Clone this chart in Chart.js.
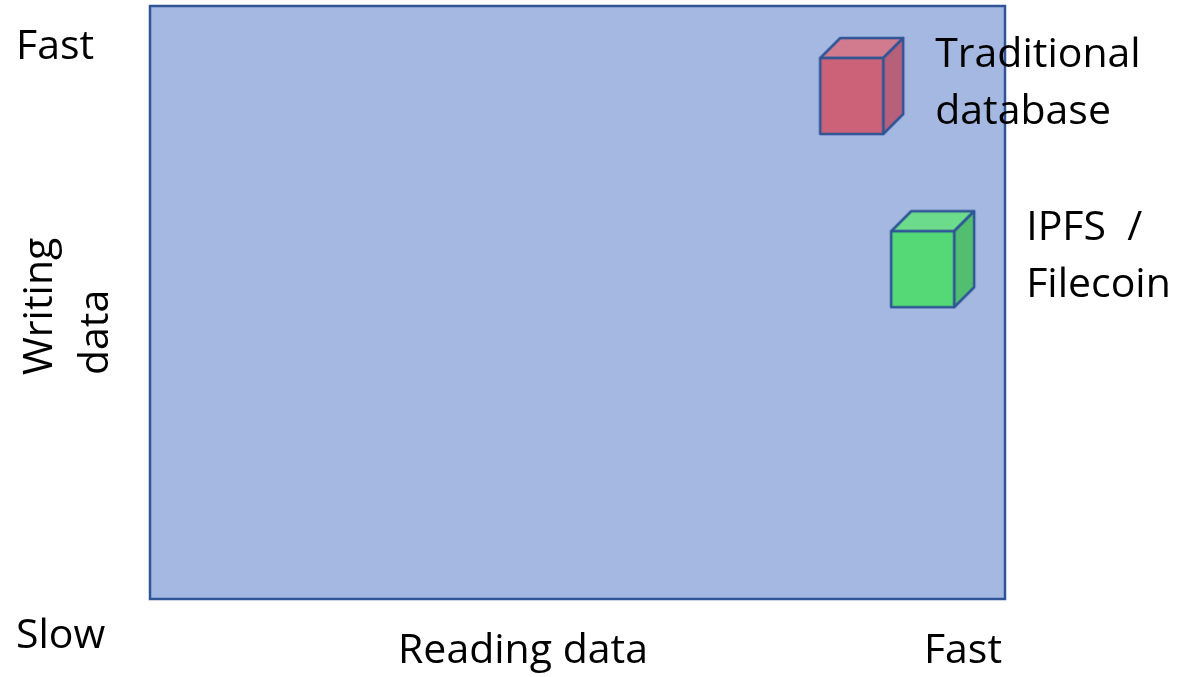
<!DOCTYPE html>
<html>
<head>
<meta charset="utf-8">
<script src="https://cdn.jsdelivr.net/npm/chart.js@4"></script>
<style>
  html, body { margin: 0; padding: 0; background: #fff; }
  #wrap { width: 1179px; height: 677px; }
</style>
</head>
<body>
<div id="wrap"><canvas id="myChart" width="1179" height="677"></canvas></div>
<script>
// data
var systems = ['Traditional database', 'IPFS / Filecoin'];
var readingSpeed = [8.33, 9.16];   // 0 = slow, 10 = fast
var writingSpeed = [8.65, 5.73];
var labelLines = [['Traditional', 'database'], ['IPFS  /', 'Filecoin']];
var cubeColors = [
  {front: '#CC6277', top: '#D27B8E', side: '#B66179'},
  {front: '#55D977', top: '#6CDB8B', side: '#52BF70'}
];
// label offset from cube centre (px)
var labelDx = [73, 93];

var FONT = '"Open Sans", "Noto Sans", sans-serif';

function makeCube(c) {
  var cv = document.createElement('canvas');
  cv.width = 88; cv.height = 100;
  var g = cv.getContext('2d');
  var x0 = 2, y0 = 22, w = 63, h = 76, d = 20;
  g.lineWidth = 2.5;
  g.strokeStyle = '#2F5597';
  g.lineJoin = 'round';
  // top
  g.beginPath();
  g.moveTo(x0, y0); g.lineTo(x0 + d, y0 - d); g.lineTo(x0 + w + d, y0 - d); g.lineTo(x0 + w, y0); g.closePath();
  g.fillStyle = c.top; g.fill(); g.stroke();
  // side
  g.beginPath();
  g.moveTo(x0 + w, y0); g.lineTo(x0 + w + d, y0 - d); g.lineTo(x0 + w + d, y0 + h - d); g.lineTo(x0 + w, y0 + h); g.closePath();
  g.fillStyle = c.side; g.fill(); g.stroke();
  // front
  g.fillStyle = c.front;
  g.fillRect(x0, y0, w, h);
  g.strokeRect(x0, y0, w, h);
  return cv;
}

var plotBg = {
  id: 'plotBg',
  beforeDraw: function(chart) {
    var a = chart.chartArea, ctx = chart.ctx;
    ctx.save();
    ctx.fillStyle = '#A5B8E1';
    ctx.fillRect(a.left, a.top, a.right - a.left, a.bottom - a.top);
    ctx.restore();
  },
  afterDatasetsDraw: function(chart) {
    var a = chart.chartArea, ctx = chart.ctx;
    ctx.save();
    ctx.strokeStyle = '#2F5597';
    ctx.lineWidth = 2.5;
    ctx.strokeRect(a.left, a.top, a.right - a.left, a.bottom - a.top);
    ctx.restore();
  }
};

var texts = {
  id: 'texts',
  afterDraw: function(chart) {
    var ctx = chart.ctx, a = chart.chartArea;
    ctx.save();
    ctx.fillStyle = '#000';
    ctx.font = '41px ' + FONT;
    ctx.textBaseline = 'middle';
    // labels beside cubes
    chart.data.datasets.forEach(function(ds, i) {
      var p = chart.getDatasetMeta(i).data[0];
      var lines = labelLines[i];
      ctx.textAlign = 'left';
      ctx.fillText(lines[0], p.x + labelDx[i], p.y - 31);
      ctx.fillText(lines[1], p.x + labelDx[i], p.y + 26);
    });
    // axis ends
    ctx.textAlign = 'left';
    ctx.fillText('Fast', 16, 47);
    ctx.fillText('Slow', 16, 636);
    ctx.textAlign = 'right';
    ctx.fillText('Fast', a.right - 3, 651);
    ctx.textAlign = 'center';
    ctx.fillText('Reading data', 523, 651);
    // y title
    ctx.translate(0, 375);
    ctx.rotate(-Math.PI / 2);
    ctx.textAlign = 'left';
    ctx.fillText('Writing', 0, 40);
    ctx.fillText('data', 0, 96);
    ctx.restore();
  }
};

var ctx = document.getElementById('myChart').getContext('2d');
var chart = new Chart(ctx, {
  type: 'scatter',
  data: {
    datasets: systems.map(function(name, i) {
      return {
        label: name,
        data: [{x: readingSpeed[i], y: writingSpeed[i]}],
        pointStyle: makeCube(cubeColors[i]),
        pointRadius: 44
      };
    })
  },
  options: {
    responsive: false,
    animation: false,
    layout: { autoPadding: false, padding: { left: 150, top: 6, right: 174, bottom: 78 } },
    plugins: { legend: { display: false }, tooltip: { enabled: false } },
    scales: {
      x: { type: 'linear', min: 0, max: 10, display: false },
      y: { type: 'linear', min: 0, max: 10, display: false }
    }
  },
  plugins: [plotBg, texts]
});
</script>
</body>
</html>
